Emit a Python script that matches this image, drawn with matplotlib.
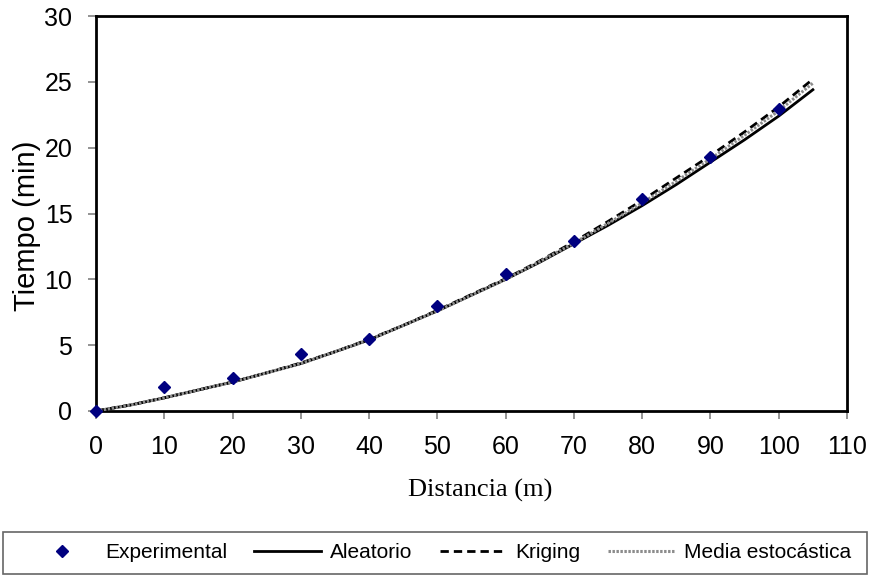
import matplotlib.pyplot as plt
from matplotlib.patches import Rectangle

# experimental measurements
exp_x = [0, 10, 20, 30, 40, 50, 60, 70, 80, 90, 100]
exp_y = [0, 1.8, 2.5, 4.3, 5.5, 8.0, 10.4, 12.9, 16.1, 19.3, 22.9]

# fitted curves, read every 5 m
dist = [0, 5, 10, 15, 20, 25, 30, 35, 40, 45, 50, 55, 60, 65, 70, 75, 80, 85, 90, 95, 100, 105]
aleatorio = [0, 0.45, 1.0, 1.6, 2.2, 2.9, 3.6, 4.5, 5.4, 6.5, 7.6, 8.8, 10.0, 11.3, 12.7,
             14.1, 15.6, 17.2, 18.9, 20.6, 22.4, 24.4]
kriging = [0, 0.45, 1.0, 1.6, 2.2, 2.9, 3.65, 4.5, 5.45, 6.5, 7.65, 8.85, 10.05, 11.4, 12.85,
           14.4, 16.0, 17.7, 19.4, 21.2, 23.1, 25.2]
media = [0, 0.45, 1.0, 1.6, 2.2, 2.9, 3.6, 4.5, 5.4, 6.5, 7.6, 8.8, 10.0, 11.35, 12.75,
         14.25, 15.8, 17.45, 19.15, 20.95, 22.8, 24.9]

plt.rcParams['font.family'] = ['Liberation Sans', 'DejaVu Sans']

W, H = 873, 579
fig = plt.figure(figsize=(W / 100, H / 100), dpi=100)
ax = fig.add_axes([96 / W, 1 - 411 / H, (847 - 96) / W, (411 - 16) / H])

ax.plot(dist, aleatorio, color='black', lw=2, label='Aleatorio', zorder=2)
ax.plot(dist, kriging, color='black', lw=2, ls=(0, (3, 1.8)), label='Kriging', zorder=2)
ax.plot(dist, media, color='0.55', lw=2.2, ls=(0, (0.8, 0.5)), label='Media estocástica', zorder=3)
ax.plot(exp_x, exp_y, ls='none', marker='D', ms=6.3, color='#000080',
        label='Experimental', zorder=4, clip_on=False)

ax.set_xlim(0, 110)
ax.set_ylim(0, 30)
ax.set_xticks(range(0, 111, 10))
ax.set_yticks(range(0, 31, 5))
for s in ax.spines.values():
    s.set_linewidth(2)
    s.set_color('black')
ax.tick_params(direction='out', length=6, width=1.2, color='0.5',
               labelsize=18, pad=11)

ax.set_ylabel('Tiempo (min)', fontsize=21)
ax.yaxis.set_label_coords(-0.073, 0.47)
ax.set_xlabel('Distancia (m)', fontsize=19, family='Liberation Serif')
ax.xaxis.set_label_coords(0.511, -0.171)

# legend frame drawn separately, entries spread inside it
fig.patches.append(Rectangle((3 / W, 1 - 574 / H), 864 / W, 42 / H,
                             transform=fig.transFigure, fill=False,
                             edgecolor='0.4', lw=1.2))
handles, labels = ax.get_legend_handles_labels()
order = [3, 0, 1, 2]
fig.legend([handles[i] for i in order], [labels[i] for i in order],
           loc='center left', bbox_to_anchor=(29 / W, 1 - 553 / H, (851 - 29) / W, 0),
           mode='expand', ncol=4, frameon=False, borderpad=0, borderaxespad=0,
           handlelength=3.2, handletextpad=0.45, fontsize=15)

fig.savefig('out.png', dpi=100)
